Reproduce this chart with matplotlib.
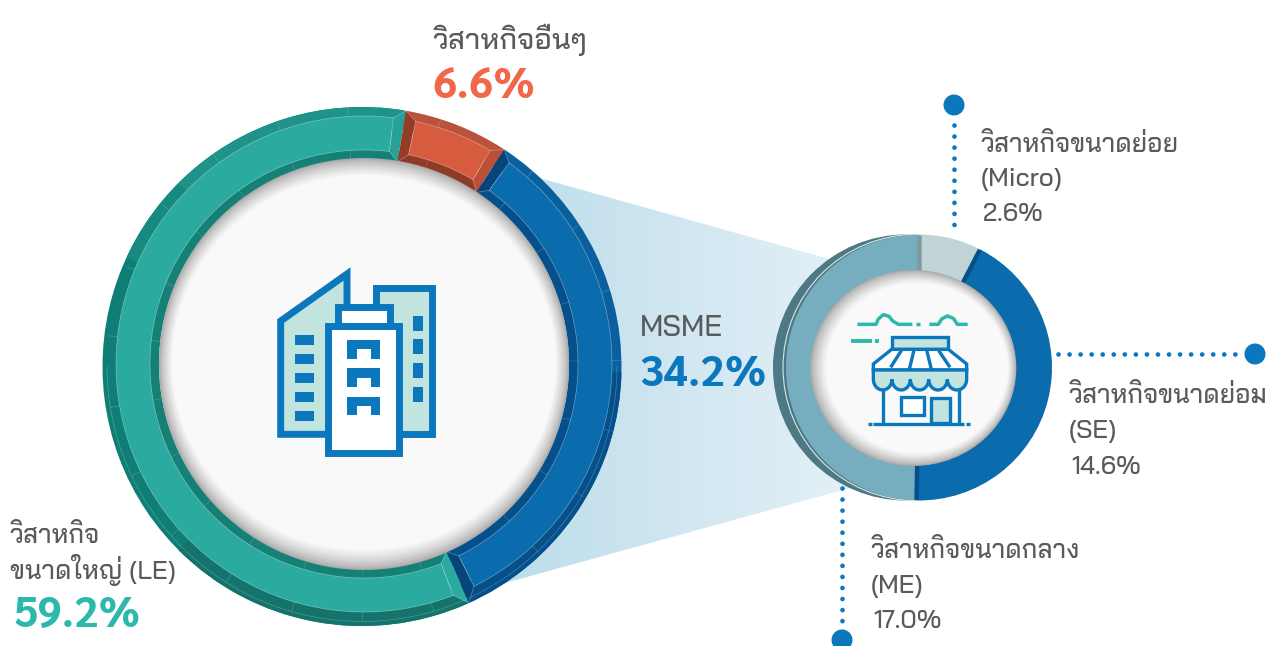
import numpy as np
import matplotlib
matplotlib.use('Agg')
import matplotlib.pyplot as plt
from matplotlib.patches import Wedge, Circle, Ellipse, Polygon
from matplotlib.lines import Line2D

# ---------- data ----------
main_categories = ['LE', 'Other', 'MSME']
main_values = [59.2, 6.6, 34.2]
msme_categories = ['Micro', 'SE', 'ME']
msme_values = [2.6, 14.6, 17.0]

title_other = 'วิสาหกิจอื่นๆ'
value_other = '6.6%'
title_msme = 'MSME'
value_msme = '34.2%'
title_le = ['วิสาหกิจ', 'ขนาดใหญ่ (LE)']
value_le = '59.2%'
label_micro = ['วิสาหกิจขนาดย่อย', '(Micro)', '2.6%']
label_se = ['วิสาหกิจขนาดย่อม', '(SE)', '14.6%']
label_me = ['วิสาหกิจขนาดกลาง', '(ME)', '17.0%']

# ---------- style ----------
FONT = ['Bai Jamjuree', 'Prompt', 'Noto Sans Thai', 'DejaVu Sans']
FONT_VALUE = ['Sarabun', 'Bai Jamjuree', 'DejaVu Sans']
plt.rcParams['font.family'] = FONT
W, H = 1273, 646
GREY = '#5A5A5C'
BLUE = '#0B78BE'
TEAL_TXT = '#2CB9AC'
ORANGE_TXT = '#F0674A'
MINT = '#C2E4DE'

FACE = ['#2BAAA0', '#D65B3F', '#0A6BAD']
RIM = ['#0F7F75', '#BA533B', '#0A5F9E']
INNER = ['#148076', '#8F3A26', '#05508A']
WALL_START = ['#2BAAA0', '#933C27', '#05457A']
WALL_END = ['#27A097', '#BB5038', '#05457A']

fig = plt.figure(figsize=(W / 100, H / 100), dpi=100)
ax = fig.add_axes([0, 0, 1, 1])


def Y(y):
    return H - y


def polar(cx, cy, r, a):
    t = np.deg2rad(90 - a)
    return cx + r * np.cos(t), Y(cy) + r * np.sin(t)


def cw_wedge(cx, cy, r, a0, a1, width=None, **kw):
    p = Wedge((cx, Y(cy)), r, 90 - a1, 90 - a0, width=width, lw=0, **kw)
    ax.add_patch(p)
    return p


# ---------- funnel with gradient ----------
grad = np.linspace(0, 1, 256).reshape(1, -1)
cmap = matplotlib.colors.LinearSegmentedColormap.from_list('f', ['#BCDDEB', '#E4F0F7'])
im = ax.imshow(grad, extent=(500, 850, 0, H), cmap=cmap, aspect='auto', zorder=1)
funnel = Polygon([(525, Y(174)), (840, Y(262)), (850, Y(488)), (505, Y(583))],
                 closed=True, transform=ax.transData, fc='none', ec='none')
ax.add_patch(funnel)
im.set_clip_path(funnel)

# ---------- big donut ----------
CX, CY = 364, 364
OCX, OCY = 362, 366.5
R_OUT, R_FO, R_FI, R_IN = 259.5, 248, 214, 205
START_A = 156.3
frac = np.array(main_values) / sum(main_values) * 360
bounds = START_A + np.concatenate([[0], np.cumsum(frac)])

wedges, _ = ax.pie(main_values, colors=RIM, center=(OCX, Y(OCY)), radius=R_OUT,
                   startangle=90 - START_A, counterclock=False,
                   wedgeprops=dict(width=R_OUT - R_FO + 8, linewidth=0))
for w in wedges:
    w.set_zorder(2)

DELTA = 2.6
for i in range(3):
    a0, a1 = bounds[i], bounds[i + 1]
    # lit upper part of the outer band of the teal segment, darker lower part
    if i == 0:
        cw_wedge(OCX, OCY, R_OUT, 315, a1, width=20, color='#1F9389', zorder=2.1)
        cw_wedge(OCX, OCY, R_OUT, 295, 315, width=20, color='#178A80', zorder=2.1)
        cw_wedge(OCX, OCY, R_OUT, a0, 225, width=20, color='#14736B', zorder=2.1)
    if i == 2:
        cw_wedge(OCX, OCY, R_OUT, a1 - 65, a1, width=20, color='#05508A', zorder=2.1)
    cw_wedge(CX, CY, R_FI + 2, a0, a1, width=R_FI + 2 - R_IN, color=INNER[i], zorder=2.2)
    # end walls, mitred into the face
    for a, d, col in ((a0, DELTA, WALL_START[i]), (a1, -DELTA, WALL_END[i])):
        t = np.deg2rad(90 - a)
        r_e = R_OUT + (-2 * np.cos(t) - 2.5 * np.sin(t))
        pts = [polar(CX, CY, r_e, a), polar(CX, CY, R_IN, a),
               polar(CX, CY, R_FI, a + d), polar(CX, CY, R_FO, a + d)]
        ax.add_patch(Polygon(pts, closed=True, fc=col, ec='none', zorder=2.3))
        ax.add_line(Line2D([pts[0][0], pts[3][0]], [pts[0][1], pts[3][1]], color='white',
                           alpha=.35, lw=.5, zorder=2.4))
        ax.add_line(Line2D([pts[1][0], pts[2][0]], [pts[1][1], pts[2][1]], color='white',
                           alpha=.35, lw=.5, zorder=2.4))
    # face
    cw_wedge(CX, CY, R_FO, a0 + DELTA, a1 - DELTA, width=R_FO - R_FI, color=FACE[i], zorder=2.5)
    for r in (R_FO, R_FI):
        th = np.deg2rad(90 - np.linspace(a0 + DELTA, a1 - DELTA, 200))
        ax.add_line(Line2D(CX + r * np.cos(th), Y(CY) + r * np.sin(th), color='white',
                           alpha=.4, lw=.5, zorder=2.6))
    for a in (a0 + DELTA, a1 - DELTA):
        p, q = polar(CX, CY, R_FI, a), polar(CX, CY, R_FO, a)
        ax.add_line(Line2D([p[0], q[0]], [p[1], q[1]], color='white', alpha=.35, lw=.5, zorder=2.6))
    # small ticks on the bevel bands
    for a in np.arange(a0 + 8, a1 - 6, 16):
        for r0, r1 in ((R_IN, R_FI), (R_FO, R_FO + 9)):
            p, q = polar(CX, CY, r0, a), polar(CX, CY, r1, a)
            ax.add_line(Line2D([p[0], q[0]], [p[1], q[1]], color='white', alpha=.2, lw=.5, zorder=2.6))

# thin line on the outer rim
th = np.deg2rad(np.linspace(180, 360, 300))
ax.add_line(Line2D(OCX + (R_OUT - 4.5) * np.cos(th), Y(OCY) + (R_OUT - 4.5) * np.sin(th),
                   color='white', alpha=.25, lw=.5, zorder=2.7))


def shaded_disc(c0, size0, c1, size1, n=22, dark=0.66, z=3):
    ax.add_patch(Ellipse((c0[0], Y(c0[1])), size0[0], size0[1], fc=(dark, dark, dark), ec='none', zorder=z))
    for k in range(1, n + 1):
        f = k / n
        e = f ** 0.75
        g = dark + (0.976 - dark) * e
        ax.add_patch(Ellipse((c0[0] + (c1[0] - c0[0]) * f, Y(c0[1] + (c1[1] - c0[1]) * f)),
                             size0[0] + (size1[0] - size0[0]) * f,
                             size0[1] + (size1[1] - size0[1]) * f,
                             fc=(g, g, g), ec='none', zorder=z + k * 0.001))


shaded_disc((364, 364), (410, 412), (364, 362.5), (384, 375))

# ---------- small donut ----------
SX, SY, SR = 919, 367.5, 133
ax.add_patch(Circle((906, Y(SY)), SR, fc='#4D7985', ec='none', zorder=3.1))
ax.add_patch(Circle((916, Y(SY)), SR, fc='none', ec='white', lw=.8, alpha=.8, zorder=3.15))
s_w, _ = ax.pie(msme_values, colors=['#C0D4D5', '#0A6BAD', '#76AEBF'], center=(SX, Y(SY)),
                radius=SR, startangle=90, counterclock=False,
                wedgeprops=dict(width=SR - 90, linewidth=0))
for w in s_w:
    w.set_zorder(3.2)
s_bounds = np.concatenate([[0], np.cumsum(np.array(msme_values) / sum(msme_values) * 360)])
for a, col, wd in ((s_bounds[0], '#7F9A9E', 4.5), (s_bounds[1], '#05508A', 4.5), (s_bounds[2], '#05508A', 4.5)):
    p, q = polar(SX, SY, 95, a), polar(SX, SY, SR - .5, a)
    ax.add_line(Line2D([p[0], q[0]], [p[1], q[1]], color=col, lw=wd * .72, solid_capstyle='butt', zorder=3.3))

shaded_disc((913.3, 368), (206, 196), (917, 368), (182, 170), z=4)

# ---------- connectors ----------
DOT = dict(color=BLUE, lw=3.4, linestyle=(0, (0.01, 2.33)), dash_capstyle='round')
ax.add_line(Line2D([954, 954], [Y(125), Y(233)], zorder=5, **DOT))
ax.add_line(Line2D([1058, 1245], [Y(354), Y(354)], zorder=5, **DOT))
ax.add_line(Line2D([842, 842], [Y(488), Y(632)], zorder=5, **DOT))
for x, y in ((954, 105), (1255, 354), (842, 640)):
    ax.add_patch(Circle((x, Y(y)), 10.5, fc=BLUE, ec='none', zorder=5))


# ---------- building icon ----------
def bz(x, y):
    return 260 + x / 3, Y(260 + y / 3)


def bpoly(pts, fc='none', ec=BLUE, lw=5.0, z=6):
    ax.add_patch(Polygon([bz(*p) for p in pts], closed=True, fc=fc, ec=ec, lw=lw,
                         joinstyle='miter', zorder=z))


bpoly([(62, 183), (261, 42), (261, 523), (62, 523)], fc=MINT)
bpoly([(347, 83), (517, 83), (517, 523), (347, 523)], fc=MINT, z=6.01)
bpoly([(233, 140), (389, 140), (389, 197), (233, 197)], fc='white', z=6.1)
bpoly([(205, 197), (417, 197), (417, 580), (205, 580)], fc='white', z=6.1)
for y0 in (225, 282, 339, 396, 453):
    bpoly([(105, y0), (162, y0), (162, y0 + 30), (105, y0 + 30)], fc=BLUE, ec='none', lw=0, z=6.2)
for y0 in (168, 237, 309, 381):
    bpoly([(459, y0), (489, y0), (489, y0 + 45), (459, y0 + 45)], fc=BLUE, ec='none', lw=0, z=6.2)
for y0 in (240, 325, 410):
    bpoly([(261, y0), (361, y0), (361, y0 + 56), (333, y0 + 56), (333, y0 + 28), (290, y0 + 28),
           (290, y0 + 56), (261, y0 + 56)], fc=BLUE, ec='none', lw=0, z=6.2)


# ---------- shop icon ----------
def sz(x, y):
    return 770 + x / 3, Y(220 + y / 3)


def spoly(pts, fc='none', ec=BLUE, lw=2.4, z=6, closed=True):
    ax.add_patch(Polygon([sz(*p) for p in pts], closed=closed, fc=fc, ec=ec, lw=lw,
                         joinstyle='miter', zorder=z))


def sline(pts, color=BLUE, lw=2.4, z=6.3, cap='butt'):
    xs, ys = zip(*[sz(*p) for p in pts])
    ax.add_line(Line2D(xs, ys, color=color, lw=lw, solid_capstyle=cap, solid_joinstyle='round', zorder=z))


TC = '#2CB9AC'
sline([(262, 313), (318, 313), (325, 297), (340, 284), (357, 289), (368, 303), (385, 313), (427, 313)], TC, 2.5)
sline([(438, 313), (450, 313)], TC, 2.5)
sline([(478, 313), (505, 313), (515, 297), (532, 288), (550, 295), (562, 313), (593, 313)], TC, 2.5)
sline([(243, 362), (305, 362)], TC, 2.8)
sline([(315, 362), (327, 362)], TC, 2.8)

spoly([(365, 350), (535, 350), (535, 388), (365, 388)], fc=MINT)
spoly([(365, 388), (535, 388), (590, 432), (590, 450), (310, 450), (310, 432)], fc='white', z=6.05)
for p, q in (((395, 390), (362, 442)), ((432, 390), (418, 448)), ((470, 390), (484, 448)), ((505, 390), (540, 442))):
    sline([p, q], z=6.1)
lobes = [(310, 366), (366, 421), (421, 476), (476, 532), (532, 590)]
outline = [(310, 450), (590, 450)]
for x0, x1 in reversed(lobes):
    t = np.linspace(0, np.pi, 16)
    xc, rx = (x0 + x1) / 2, (x1 - x0) / 2
    outline += [(xc + rx * np.cos(v), 478 + 32 * np.sin(v)) for v in t]
spoly(outline, fc=MINT, z=6.08)
sline([(340, 505), (340, 612)])
sline([(568, 505), (568, 612)])
spoly([(392, 532), (462, 532), (462, 585), (392, 585)], fc='white')
spoly([(484, 534), (540, 534), (540, 610), (484, 610)], fc=MINT)
sline([(310, 612), (582, 612)])
sline([(295, 612), (306, 612)])
sline([(589, 612), (600, 612)])


# ---------- texts ----------
def T(x, y, s, size=18.5, color=GREY, weight=500, family=FONT):
    ax.text(x, Y(y), s, fontsize=size, color=color, fontweight=weight, family=family,
            ha='left', va='baseline', zorder=8)


T(433, 49, title_other, 21)
T(432, 98, value_other, 31, ORANGE_TXT, 700, FONT_VALUE)
T(640, 336, title_msme, 21)
T(639, 386, value_msme, 31, BLUE, 700, FONT_VALUE)
T(10, 543, title_le[0], 18.5)
T(10, 579, title_le[1], 18.5)
T(13, 627, value_le, 31, TEAL_TXT, 700, FONT_VALUE)
for (x, ys, lab) in ((981, (152, 186, 221), label_micro),
                     (1069, (403, 438, 474), label_se),
                     (871, (558, 593, 628), label_me)):
    for y, s in zip(ys, lab):
        T(x + (2 if '%' in s else 0), y, s, 18.5 if '%' not in s else 18)

ax.set_aspect('auto')
ax.set_xlim(0, W)
ax.set_ylim(0, H)
ax.axis('off')
fig.savefig('out.png', dpi=100, facecolor='white')
